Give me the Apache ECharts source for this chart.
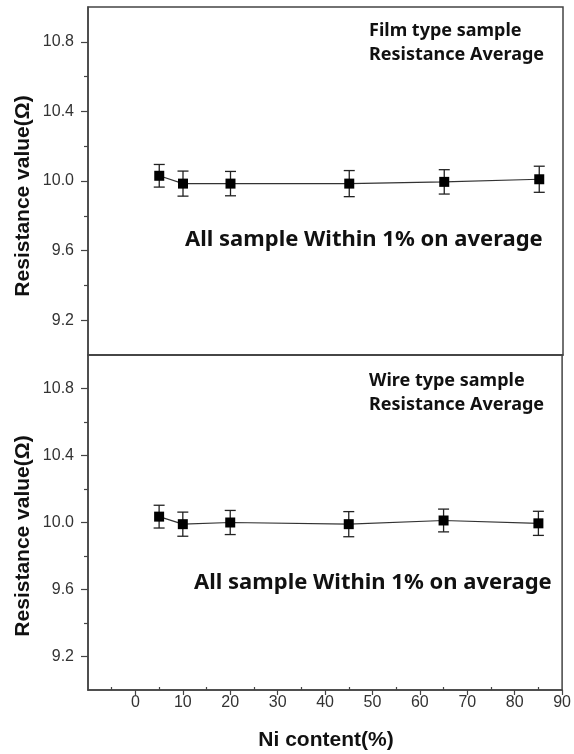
<!DOCTYPE html>
<html>
<head>
<meta charset="utf-8">
<script src="https://cdn.jsdelivr.net/npm/echarts@6/dist/echarts.min.js"></script>
<style>
  html, body { margin: 0; padding: 0; background: #fff; }
  #main { width: 574px; height: 754px; }
</style>
</head>
<body>
<div id="main"></div>
<script>
// data
var niContent = [5, 10, 20, 45, 65, 85];
var filmAvg = [10.03, 9.985, 9.985, 9.985, 9.995, 10.01];
var filmErr = [0.065, 0.072, 0.07, 0.075, 0.07, 0.075];
var wireAvg = [10.035, 9.99, 10.0, 9.99, 10.012, 9.995];
var wireErr = [0.068, 0.072, 0.072, 0.075, 0.068, 0.072];
var yMajor = [9.2, 9.6, 10.0, 10.4, 10.8];
var yMinor = [9.4, 9.8, 10.2, 10.6];
var xMajor = [0, 10, 20, 30, 40, 50, 60, 70, 80, 90];
var xMinor = [-5, 5, 15, 25, 35, 45, 55, 65, 75, 85];

var axisColor = '#444';
var labelFont = { fontFamily: 'Liberation Sans', fontSize: 16, color: '#333' };
var boldFont = 'Noto Sans';

function pairs(avg) {
	return niContent.map(function(x, i) { return [x, avg[i]]; });
}
function errRows(avg, err) {
	return niContent.map(function(x, i) { return [x, avg[i] - err[i], avg[i] + err[i]]; });
}

function errorItem(params, api) {
	var x = api.value(0);
	var lo = api.coord([x, api.value(1)]);
	var hi = api.coord([x, api.value(2)]);
	var cap = 5.5;
	var st = { stroke: '#222', lineWidth: 1.3 };
	return {
		type: 'group',
		children: [
			{ type: 'line', shape: { x1: hi[0], y1: hi[1], x2: lo[0], y2: lo[1] }, style: st },
			{ type: 'line', shape: { x1: hi[0] - cap, y1: hi[1], x2: hi[0] + cap, y2: hi[1] }, style: st },
			{ type: 'line', shape: { x1: lo[0] - cap, y1: lo[1], x2: lo[0] + cap, y2: lo[1] }, style: st }
		]
	};
}

function yAxisPair(gridIndex) {
	return [{
		type: 'value', gridIndex: gridIndex, position: 'left', min: 9.0, max: 11.0, interval: 0.2,
		axisLine: { show: true, onZero: false, lineStyle: { color: axisColor, width: 1.5 } },
		axisTick: { show: true, length: 7, customValues: yMajor, lineStyle: { color: axisColor, width: 1.2 } },
		axisLabel: {
			show: true, customValues: yMajor, margin: 14,
			formatter: function(v) { return v.toFixed(1); },
			fontFamily: labelFont.fontFamily, fontSize: labelFont.fontSize, color: labelFont.color
		},
		splitLine: { show: false }
	}, {
		type: 'value', gridIndex: gridIndex, position: 'left', min: 9.0, max: 11.0, interval: 0.2,
		axisLine: { show: false, onZero: false },
		axisTick: { show: true, length: 4, customValues: yMinor, lineStyle: { color: axisColor, width: 1.2 } },
		axisLabel: { show: false },
		splitLine: { show: false }
	}];
}

function xAxisPair(gridIndex, withLabels) {
	return [{
		type: 'value', gridIndex: gridIndex, position: 'bottom', min: -10, max: 90, interval: 10,
		axisLine: { show: true, onZero: false, lineStyle: { color: axisColor, width: 1.5 } },
		axisTick: { show: withLabels, length: 5, customValues: xMajor, lineStyle: { color: axisColor, width: 1.2 } },
		axisLabel: {
			show: withLabels, customValues: xMajor, margin: 5,
			fontFamily: labelFont.fontFamily, fontSize: labelFont.fontSize, color: labelFont.color
		},
		splitLine: { show: false }
	}, {
		type: 'value', gridIndex: gridIndex, position: 'bottom', min: -10, max: 90, interval: 10,
		axisLine: { show: false, onZero: false },
		axisTick: { show: withLabels, inside: true, length: 3, customValues: xMinor, lineStyle: { color: axisColor, width: 1.2 } },
		axisLabel: { show: false },
		splitLine: { show: false }
	}];
}

var chart = echarts.init(document.getElementById('main'), null, { renderer: 'canvas' });

var option = {
	backgroundColor: '#fff',
	animation: false,
	grid: [
		{ left: 88, top: 7, width: 475, height: 348, show: true, borderColor: axisColor, borderWidth: 1.5, backgroundColor: 'transparent' },
		{ left: 88, top: 355, width: 475, height: 335, show: true, borderColor: axisColor, borderWidth: 1.5, backgroundColor: 'transparent' }
	],
	xAxis: xAxisPair(0, false).concat(xAxisPair(1, true)),
	yAxis: yAxisPair(0).concat(yAxisPair(1)),
	series: [
		{
			name: 'film err', type: 'custom', xAxisIndex: 0, yAxisIndex: 0,
			renderItem: errorItem, data: errRows(filmAvg, filmErr), z: 2
		},
		{
			name: 'film', type: 'line', xAxisIndex: 0, yAxisIndex: 0,
			symbol: 'rect', symbolSize: 10,
			itemStyle: { color: '#000' },
			lineStyle: { color: '#333', width: 1.2 },
			data: pairs(filmAvg), z: 3
		},
		{
			name: 'wire err', type: 'custom', xAxisIndex: 2, yAxisIndex: 2,
			renderItem: errorItem, data: errRows(wireAvg, wireErr), z: 2
		},
		{
			name: 'wire', type: 'line', xAxisIndex: 2, yAxisIndex: 2,
			symbol: 'rect', symbolSize: 10,
			itemStyle: { color: '#000' },
			lineStyle: { color: '#333', width: 1.2 },
			data: pairs(wireAvg), z: 3
		}
	],
	graphic: [
		// axis names
		{
			type: 'text', x: 23, y: 196, rotation: Math.PI / 2,
			style: { text: 'Resistance value(Ω)', font: 'bold 21px "Liberation Sans"', fill: '#111', align: 'center', verticalAlign: 'middle' }
		},
		{
			type: 'text', x: 23, y: 536, rotation: Math.PI / 2,
			style: { text: 'Resistance value(Ω)', font: 'bold 21px "Liberation Sans"', fill: '#111', align: 'center', verticalAlign: 'middle' }
		},
		{
			type: 'text', x: 326, y: 740,
			style: { text: 'Ni content(%)', font: 'bold 21px "Liberation Sans"', fill: '#111', align: 'center', verticalAlign: 'middle' }
		},
		// panel notes
		{
			type: 'text', x: 369, y: 31,
			style: { text: 'Film type sample', font: 'bold 18px "' + boldFont + '"', fill: '#111', align: 'left', verticalAlign: 'middle' }
		},
		{
			type: 'text', x: 369, y: 55,
			style: { text: 'Resistance Average', font: 'bold 18px "' + boldFont + '"', fill: '#111', align: 'left', verticalAlign: 'middle' }
		},
		{
			type: 'text', x: 185, y: 240,
			style: { text: 'All sample Within 1% on average', font: 'bold 22px "' + boldFont + '"', fill: '#111', align: 'left', verticalAlign: 'middle' }
		},
		{
			type: 'text', x: 369, y: 381,
			style: { text: 'Wire type sample', font: 'bold 18px "' + boldFont + '"', fill: '#111', align: 'left', verticalAlign: 'middle' }
		},
		{
			type: 'text', x: 369, y: 405,
			style: { text: 'Resistance Average', font: 'bold 18px "' + boldFont + '"', fill: '#111', align: 'left', verticalAlign: 'middle' }
		},
		{
			type: 'text', x: 194, y: 583,
			style: { text: 'All sample Within 1% on average', font: 'bold 22px "' + boldFont + '"', fill: '#111', align: 'left', verticalAlign: 'middle' }
		}
	]
};

chart.setOption(option);
</script>
</body>
</html>
